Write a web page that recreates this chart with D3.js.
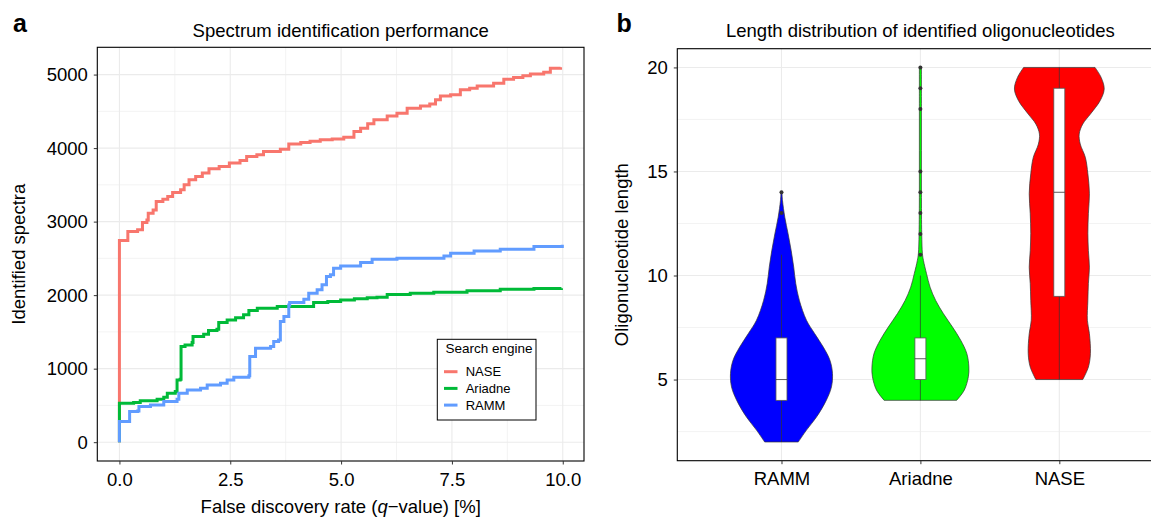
<!DOCTYPE html>
<html>
<head>
<meta charset="utf-8">
<script src="https://cdn.jsdelivr.net/npm/d3@7"></script>
<style>
  body { margin: 0; background: #fff; }
  svg { display: block; font-family: "Liberation Sans", Arial, Helvetica, sans-serif; }
</style>
</head>
<body>
<svg id="chart" width="1151" height="517"></svg>
<script>
// ---- panel a: identified spectra vs FDR (step curves, [fdr %, count])
const engines = ['NASE', 'Ariadne', 'RAMM'];

const naseCurve = [
    [0, 0], [0, 2742], [0.19, 2865], [0.41, 2888], [0.52, 2987], [0.62, 3023], [0.65, 3114],
    [0.76, 3159], [0.83, 3273], [0.98, 3305], [1.09, 3341], [1.2, 3396], [1.38, 3432],
    [1.46, 3500], [1.57, 3568], [1.72, 3614], [1.87, 3660], [2.02, 3719], [2.25, 3750],
    [2.48, 3796], [2.72, 3832], [2.87, 3886], [3.1, 3909], [3.25, 3955], [3.63, 3986],
    [3.82, 4057], [4.09, 4077], [4.3, 4092], [4.53, 4112], [4.8, 4125], [5.06, 4148],
    [5.29, 4225], [5.44, 4271], [5.6, 4330], [5.74, 4384], [6.04, 4438], [6.26, 4475],
    [6.49, 4543], [6.79, 4574], [7.0, 4600], [7.13, 4656], [7.24, 4710], [7.47, 4724],
    [7.69, 4792], [7.9, 4815], [8.07, 4846], [8.44, 4883], [8.67, 4937], [8.89, 4960],
    [9.1, 4985], [9.27, 5009], [9.57, 5032], [9.72, 5087], [9.95, 5100]
];

const ariadneCurve = [
    [0, 0], [0, 530], [0.32, 539], [0.47, 562], [0.85, 585], [1.0, 612], [1.08, 666],
    [1.26, 689], [1.3, 847], [1.37, 856], [1.39, 1300], [1.48, 1323], [1.64, 1355],
    [1.66, 1437], [1.9, 1469], [2.01, 1518], [2.2, 1536], [2.24, 1627], [2.43, 1663],
    [2.62, 1691], [2.8, 1732], [2.92, 1790], [3.11, 1822], [3.56, 1844], [4.38, 1899],
    [4.7, 1915], [4.99, 1935], [5.3, 1950], [5.59, 1963], [5.81, 1972], [6.04, 2008],
    [6.56, 2027], [7.09, 2040], [7.84, 2058], [8.59, 2081], [9.35, 2089], [9.97, 2095]
];

const rammCurve = [
    [0, 0], [0, 280], [0.23, 416], [0.41, 425], [0.44, 484], [0.7, 507], [1.0, 552],
    [1.3, 585], [1.34, 666], [1.53, 711], [1.83, 734], [1.98, 779], [2.28, 802],
    [2.43, 847], [2.58, 884], [2.92, 902], [2.94, 1164], [3.07, 1278], [3.41, 1300],
    [3.48, 1369], [3.59, 1391], [3.63, 1640], [3.71, 1708], [3.82, 1867], [3.84, 1899],
    [4.16, 1945], [4.27, 2027], [4.46, 2072], [4.57, 2140], [4.67, 2253], [4.76, 2276],
    [4.83, 2367], [4.99, 2398], [5.44, 2443], [5.7, 2489], [6.26, 2503], [7.32, 2534],
    [7.47, 2571], [8.0, 2600], [8.59, 2625], [9.35, 2661], [9.99, 2684]
];

const fdrTicks = [0, 2.5, 5, 7.5, 10];
const fdrMinor = [1.25, 3.75, 6.25, 8.75];
const spectraTicks = [0, 1000, 2000, 3000, 4000, 5000];
const spectraMinor = [500, 1500, 2500, 3500, 4500];

// ---- panel b: oligonucleotide length violins ([length, relative density])
const violinOrder = ['RAMM', 'Ariadne', 'NASE'];

const rammDensity = [
    [2, 0.33], [2.57, 0.49], [3.21, 0.69], [4.01, 0.88], [4.65, 0.98], [5.29, 1.0],
    [5.93, 0.95], [6.56, 0.82], [7.21, 0.65], [7.85, 0.49], [8.81, 0.35], [9.61, 0.28],
    [10.4, 0.24], [11.2, 0.19], [12.0, 0.13], [12.8, 0.065], [13.6, 0.02], [14, 0.01]
];
const ariadneDensity = [
    [4, 0.71], [4.49, 0.86], [5.13, 0.94], [5.6, 0.95], [6.25, 0.91], [6.89, 0.79],
    [7.52, 0.63], [8.17, 0.45], [8.8, 0.3], [9.44, 0.19], [10.09, 0.12], [10.72, 0.06],
    [11.04, 0.04], [12, 0.026], [14, 0.02], [16, 0.02], [18, 0.02], [20, 0.02]
];
const naseDensity = [
    [5, 0.46], [5.6, 0.57], [6.25, 0.61], [7.21, 0.59], [7.85, 0.55], [8.81, 0.56],
    [9.61, 0.57], [10.4, 0.59], [11.2, 0.57], [12.03, 0.56], [12.97, 0.57], [13.93, 0.59],
    [14.89, 0.56], [15.68, 0.51], [16.32, 0.41], [16.8, 0.39], [17.28, 0.46], [17.76, 0.61],
    [18.4, 0.8], [18.96, 0.88], [19.52, 0.82], [20, 0.7]
];

const boxQ1 = [4, 5, 9];
const boxMedian = [5, 6, 14];
const boxQ3 = [7, 7, 19];
const whiskerLow = [2, 4, 5];
const whiskerHigh = [11, 10, 20];
const rammOutliers = [13, 14];
const ariadneOutliers = [11, 12, 13, 14, 15, 18, 19, 20];
const naseOutliers = [];

const lengthTicks = [5, 10, 15, 20];
const lengthMinor = [2.5, 7.5, 12.5, 17.5];

// ---- styles
const lineColors = { NASE: '#F8766D', Ariadne: '#00BA38', RAMM: '#619CFF' };
const violinFill = { RAMM: '#0000FF', Ariadne: '#00FF00', NASE: '#FF0000' };
const FONT = 18.5;

const svg = d3.select('#chart');
svg.append('rect').attr('width', 1151).attr('height', 517).attr('fill', '#fff');

function drawGrid(g, xs, ys, xList, yList, width) {
    xList.forEach(v => {
        g.append('line')
            .attr('x1', xs(v)).attr('x2', xs(v))
            .attr('y1', ys.range()[0]).attr('y2', ys.range()[1])
            .attr('stroke', '#ebebeb').attr('stroke-width', width);
    });
    yList.forEach(v => {
        g.append('line')
            .attr('x1', xs.range()[0]).attr('x2', xs.range()[1])
            .attr('y1', ys(v)).attr('y2', ys(v))
            .attr('stroke', '#ebebeb').attr('stroke-width', width);
    });
}

function styleAxis(sel) {
    sel.select('.domain').remove();
    sel.selectAll('line').attr('stroke', '#333').attr('stroke-width', 1);
    sel.selectAll('text').attr('fill', '#000').attr('font-size', FONT).attr('font-family', null);
}

// ================= panel a =================
const ax = d3.scaleLinear().domain([-0.499, 10.479]).range([97.3, 584]);
const ay = d3.scaleLinear().domain([-256, 5371]).range([461, 47.3]);

const ga = svg.append('g');
drawGrid(ga, ax, ay, fdrMinor, spectraMinor, 0.6);
drawGrid(ga, ax, ay, fdrTicks, spectraTicks, 1.1);

const stepLine = d3.line()
    .x(d => ax(d[0]))
    .y(d => ay(d[1]))
    .curve(d3.curveStepAfter);

const curves = { NASE: naseCurve, Ariadne: ariadneCurve, RAMM: rammCurve };
engines.forEach(name => {
    ga.append('path')
        .attr('d', stepLine(curves[name]))
        .attr('fill', 'none')
        .attr('stroke', lineColors[name])
        .attr('stroke-width', 3);
});

ga.append('rect')
    .attr('x', 97.3).attr('y', 47.3)
    .attr('width', 584 - 97.3).attr('height', 461 - 47.3)
    .attr('fill', 'none').attr('stroke', '#000').attr('stroke-width', 1.1);

ga.append('g')
    .attr('transform', 'translate(97.3,0)')
    .call(d3.axisLeft(ay).tickValues(spectraTicks).tickFormat(d3.format('d')).tickSize(3.5).tickPadding(6))
    .call(styleAxis);

ga.append('g')
    .attr('transform', 'translate(0,461)')
    .call(d3.axisBottom(ax).tickValues(fdrTicks).tickFormat(d3.format('.1f')).tickSize(3.5).tickPadding(8))
    .call(styleAxis);

// legend
const leg = ga.append('g');
leg.append('rect')
    .attr('x', 437.3).attr('y', 339.3).attr('width', 98.7).attr('height', 80.7)
    .attr('fill', '#fff').attr('stroke', '#000').attr('stroke-width', 1);
leg.append('text')
    .attr('x', 445.5).attr('y', 352.5)
    .attr('font-size', 13.5).attr('fill', '#000')
    .text('Search engine');
engines.forEach((name, i) => {
    const y = 371.7 + i * 16.7;
    leg.append('line')
        .attr('x1', 444).attr('x2', 457.5).attr('y1', y).attr('y2', y)
        .attr('stroke', lineColors[name]).attr('stroke-width', 3);
    leg.append('text')
        .attr('x', 465.7).attr('y', y).attr('dy', '0.35em')
        .attr('font-size', 13).attr('fill', '#000')
        .text(name);
});

// titles
svg.append('text').attr('x', 13).attr('y', 31.7)
    .attr('font-size', 25).attr('font-weight', 'bold').text('a');
svg.append('text').attr('x', 340.7).attr('y', 37.3)
    .attr('text-anchor', 'middle').attr('font-size', FONT).text('Spectrum identification performance');
svg.append('text')
    .attr('transform', 'translate(24.5,254.2) rotate(-90)')
    .attr('text-anchor', 'middle').attr('font-size', FONT).text('Identified spectra');
const xt = svg.append('text').attr('x', 340.7).attr('y', 512.5)
    .attr('text-anchor', 'middle').attr('font-size', FONT);
xt.append('tspan').text('False discovery rate (');
xt.append('tspan').attr('font-style', 'italic').text('q');
xt.append('tspan').text('\u2212value) [%]');

// ================= panel b =================
const bx = d3.scalePoint().domain(violinOrder).range([677.3, 1163.5]).padding(0.75);
const by = d3.scaleLinear().domain([1.1, 20.9]).range([460.7, 48.7]);
const bw = d3.scaleLinear().domain([0, 1]).range([0, 51]);

const gb = svg.append('g');
drawGrid(gb, bx, by, [], lengthMinor, 0.6);
drawGrid(gb, bx, by, violinOrder, lengthTicks, 1.1);

const densities = { RAMM: rammDensity, Ariadne: ariadneDensity, NASE: naseDensity };
const outliers = { RAMM: rammOutliers, Ariadne: ariadneOutliers, NASE: naseOutliers };

violinOrder.forEach((name, i) => {
    const cx = bx(name);
    const area = d3.area()
        .y(d => by(d[0]))
        .x0(d => cx - bw(d[1]))
        .x1(d => cx + bw(d[1]))
        .curve(d3.curveCatmullRom);
    gb.append('path')
        .attr('d', area(densities[name]))
        .attr('fill', violinFill[name])
        .attr('stroke', '#333').attr('stroke-width', 0.7);

    gb.append('line')
        .attr('x1', cx).attr('x2', cx)
        .attr('y1', by(whiskerLow[i])).attr('y2', by(whiskerHigh[i]))
        .attr('stroke', '#333').attr('stroke-width', 0.7);
    gb.append('rect')
        .attr('x', cx - 5.5).attr('width', 11)
        .attr('y', by(boxQ3[i])).attr('height', by(boxQ1[i]) - by(boxQ3[i]))
        .attr('fill', '#fff').attr('stroke', '#555').attr('stroke-width', 0.8);
    gb.append('line')
        .attr('x1', cx - 5.5).attr('x2', cx + 5.5)
        .attr('y1', by(boxMedian[i])).attr('y2', by(boxMedian[i]))
        .attr('stroke', '#333').attr('stroke-width', 0.8);

    outliers[name].forEach(v => {
        gb.append('circle')
            .attr('cx', cx).attr('cy', by(v)).attr('r', 2)
            .attr('fill', '#333');
    });
});

gb.append('rect')
    .attr('x', 677.3).attr('y', 48.7)
    .attr('width', 1163.5 - 677.3).attr('height', 460.7 - 48.7)
    .attr('fill', 'none').attr('stroke', '#000').attr('stroke-width', 1.1);

gb.append('g')
    .attr('transform', 'translate(677.3,0)')
    .call(d3.axisLeft(by).tickValues(lengthTicks).tickSize(3.5).tickPadding(6))
    .call(styleAxis);

gb.append('g')
    .attr('transform', 'translate(0,460.7)')
    .call(d3.axisBottom(bx).tickSize(3.5).tickPadding(8))
    .call(styleAxis);

svg.append('text').attr('x', 616.5).attr('y', 31.7)
    .attr('font-size', 25).attr('font-weight', 'bold').text('b');
svg.append('text').attr('x', 920.4).attr('y', 37.3)
    .attr('text-anchor', 'middle').attr('font-size', FONT).text('Length distribution of identified oligonucleotides');
svg.append('text')
    .attr('transform', 'translate(628,254.7) rotate(-90)')
    .attr('text-anchor', 'middle').attr('font-size', FONT).text('Oligonucleotide length');
</script>
</body>
</html>
